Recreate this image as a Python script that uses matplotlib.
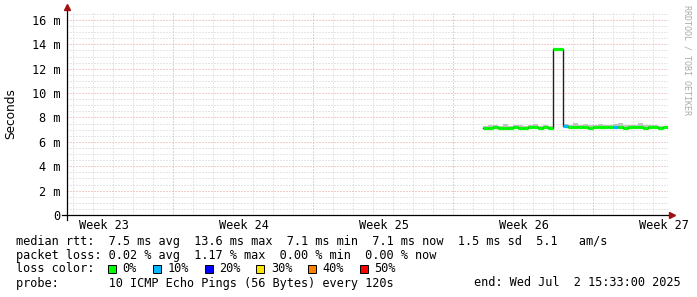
import matplotlib
matplotlib.use("Agg")
import matplotlib.pyplot as plt
from matplotlib.patches import Rectangle
import numpy as np

# ---- data (time in days from left edge of graph, rtt in ms) ----
bin_width = 0.25
bin_start = 20.8 + bin_width * np.arange(37)

median_ms = [7.12, 7.15, 7.18, 7.14, 7.16, 7.13, 7.20, 7.17, 7.15, 7.22,
             7.18, 7.16, 7.19, 7.15, 13.62, 13.65, 7.30, 7.18, 7.22, 7.25,
             7.20, 7.17, 7.24, 7.21, 7.19, 7.23, 7.18, 7.20, 7.16, 7.22,
             7.19, 7.21, 7.17, 7.20, 7.18, 7.16, 7.19]
smoke_hi_ms = [7.30, 7.40, 7.35, 7.28, 7.45, 7.30, 7.35, 7.42, 7.30, 7.38,
               7.50, 7.33, 7.40, 7.30, 13.70, 13.70, 7.45, 7.40, 7.55, 7.35,
               7.48, 7.38, 7.42, 7.50, 7.36, 7.40, 7.45, 7.52, 7.35, 7.40,
               7.38, 7.58, 7.42, 7.36, 7.40, 7.32, 7.30]
loss_pct = [0, 0, 0, 0, 0, 0, 0, 0, 0, 0,
            0, 0, 0, 0, 0, 0, 10, 0, 0, 0,
            0, 0, 0, 0, 0, 0, 10, 0, 0, 0,
            0, 0, 0, 0, 0, 0, 0]

week_labels = ['Week 23', 'Week 24', 'Week 25', 'Week 26', 'Week 27']
week_centers = [1.85, 8.85, 15.85, 22.85, 29.85]
week_lines = [5.3, 12.3, 19.3, 26.3]
day_lines = np.arange(0.3, 30.0, 1.0)

loss_levels = ['0%', '10%', '20%', '30%', '40%', '50%']
loss_colors = ['#00ff00', '#00b8ff', '#0000ff', '#ffe600', '#ff8000', '#ff0000']

stats_rtt = "median rtt:  7.5 ms avg  13.6 ms max  7.1 ms min  7.1 ms now  1.5 ms sd  5.1   am/s"
stats_loss = "packet loss: 0.02 % avg  1.17 % max  0.00 % min  0.00 % now"
probe_text = "probe:       10 ICMP Echo Pings (56 Bytes) every 120s"
end_text = "end: Wed Jul  2 15:33:00 2025"

# ---- layout ----
W, H = 697, 297
FS = 8.53
MONO = 'DejaVu Sans Mono'
plt.rcParams['font.family'] = MONO

fig = plt.figure(figsize=(W / 100, H / 100), dpi=100)
fig.patch.set_facecolor('white')
x0, x1, ytop, ybot = 67, 668, 12, 215
ax = fig.add_axes([x0 / W, 1 - ybot / H, (x1 - x0) / W, (ybot - ytop) / H])
ax.set_xlim(0, 30.05)
ax.set_ylim(0, 16.65)
for s in ax.spines.values():
    s.set_visible(False)

def px(x, y):
    return x / W, 1 - y / H

# grid (dotted)
minor_c, major_c = '#cfcfcf', '#e89a9a'
dot = (0, (1, 2))
for yv in np.arange(0.5, 16.7, 0.5):
    if yv % 2 == 0:
        continue
    ax.axhline(yv, color=minor_c, lw=0.72, ls=dot, zorder=0)
for xv in day_lines:
    if any(abs(xv - w) < 1e-6 for w in week_lines):
        continue
    ax.axvline(xv, color=minor_c, lw=0.72, ls=dot, zorder=0)
for yv in range(2, 17, 2):
    ax.axhline(yv, color=major_c, lw=0.72, ls=dot, zorder=0.5)
for xv in week_lines:
    ax.axvline(xv, color=major_c, lw=0.72, ls=dot, zorder=0.5)

# smoke
edges = np.append(bin_start, bin_start[-1] + bin_width)
med = np.array(median_ms)
hi = np.array(smoke_hi_ms)
ax.fill_between(edges, np.append(med, med[-1]), np.append(hi, hi[-1]),
                step='post', color='#c4c4c4', lw=0, zorder=1)

# median line: thin dark step line, then coloured segments by loss
ax.step(edges, np.append(med, med[-1]), where='post', color='#202020',
        lw=1.0, zorder=2)
for i in range(len(med)):
    c = loss_colors[loss_levels.index('%d%%' % loss_pct[i])]
    ax.hlines(med[i], edges[i], edges[i + 1], color=c, lw=2.3, zorder=3)

# axes lines with arrows
ax.plot([-5 / 601, 1.004], [0, 0], transform=ax.transAxes, color='black',
        lw=0.9, clip_on=False, zorder=4)
ax.plot([0, 0], [-5 / 203, 1.02], transform=ax.transAxes, color='black',
        lw=0.9, clip_on=False, zorder=4)
ax.plot([1.006], [0], transform=ax.transAxes, marker='>', ms=4,
        color='#a01010', clip_on=False, zorder=5)
ax.plot([0], [1.025], transform=ax.transAxes, marker='^', ms=4,
        color='#a01010', clip_on=False, zorder=5)

# ticks
ax.set_yticks(range(0, 17, 2))
ax.set_yticklabels(['0'] + ['%d m' % v for v in range(2, 17, 2)])
ax.set_xticks(week_centers)
ax.set_xticklabels(week_labels)
ax.tick_params(axis='y', length=0, pad=5, labelsize=FS)
ax.tick_params(axis='x', length=0, pad=3, labelsize=FS)

# y label and watermark
fig.text(*px(11, 114), 'Seconds', rotation=90, ha='center', va='center',
         fontsize=FS + 0.2, family='DejaVu Sans')
fig.text(*px(687, 60), 'RRDTOOL / TOBI OETIKER', rotation=270, ha='center',
         va='center', fontsize=6, color='#aaaaaa')

# legend block
fig.text(*px(16, 241), stats_rtt, ha='left', va='center', fontsize=FS)
fig.text(*px(16, 255), stats_loss, ha='left', va='center', fontsize=FS)
fig.text(*px(16, 269), 'loss color:', ha='left', va='center', fontsize=FS)
fig.text(*px(16, 283), probe_text, ha='left', va='center', fontsize=FS)
fig.text(*px(681, 283), end_text, ha='right', va='center', fontsize=FS)

bx = 108
for lbl, col in zip(loss_levels, loss_colors):
    fig.patches.append(Rectangle(px(bx, 273), 8 / W, 8 / H, facecolor=col,
                                 edgecolor='black', lw=0.7,
                                 transform=fig.transFigure))
    fig.text(*px(bx + 14.5, 269), lbl, ha='left', va='center', fontsize=FS)
    bx = bx + 14.5 + 7.1 * len(lbl) + 16

fig.savefig('out.png', dpi=100, facecolor='white')
